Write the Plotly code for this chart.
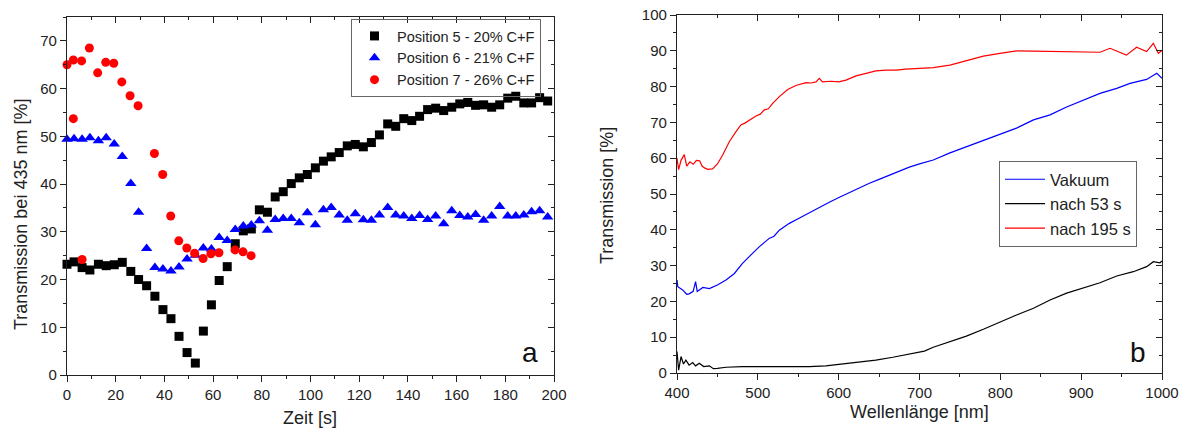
import plotly.graph_objects as go

W, H = 1181, 428

# ---------------- Panel a data ----------------
t_black = [0, 2.9, 6.2, 9.4, 12.9, 16.1, 19.4, 22.7, 26.2, 29.4, 32.7, 36.1, 39.4, 42.7, 46.0, 49.3,
           52.7, 56.0, 59.3, 62.5, 65.8, 69.1, 72.4, 75.7, 79.0, 82.3, 85.5, 88.8, 92.1, 95.4, 98.7,
           102.0, 105.3, 108.5, 111.8, 115.1, 118.4, 121.7, 125.0, 128.3, 131.7, 135.0, 138.3, 141.6,
           144.8, 148.1, 151.4, 154.7, 158.0, 161.3, 164.6, 167.8, 171.1, 174.4, 177.7, 181.0, 184.3,
           187.6, 190.8, 194.1, 197.4]
pos5 = [23.2, 23.7, 22.5, 22.0, 23.2, 22.9, 23.1, 23.6, 21.7, 20.0, 18.7, 16.5, 13.7, 11.8, 8.1, 4.7,
        2.5, 9.2, 14.7, 19.8, 22.7, 27.5, 30.2, 30.6, 34.6, 34.1, 37.3, 38.4, 40.1, 41.3, 42.0,
        43.4, 44.8, 45.7, 46.6, 48.0, 48.3, 47.8, 48.7, 50.3, 52.6, 52.1, 53.7, 53.3, 54.2, 55.6,
        55.9, 55.4, 56.1, 56.8, 57.1, 56.5, 56.6, 56.1, 56.6, 58.0, 58.4, 57.0, 57.0, 58.1, 57.4]
t_blue = t_black
pos6 = [49.4, 49.5, 49.4, 49.7, 49.1, 49.7, 48.4, 45.8, 40.1, 34.1, 26.5, 22.5, 22.2, 21.8, 22.6, 24.3,
        25.1, 26.6, 26.4, 28.8, 28.2, 30.5, 31.2, 31.4, 32.3, 30.3, 32.6, 32.8, 32.8, 31.9, 34.0,
        31.5, 34.6, 35.1, 33.5, 32.4, 33.8, 32.5, 32.4, 33.5, 35.1, 33.5, 33.3, 32.8, 33.4, 32.6,
        33.3, 31.7, 34.4, 33.4, 33.1, 33.6, 32.4, 33.3, 35.3, 33.3, 33.3, 33.5, 34.2, 34.4, 33.1]
t_red = [0, 2.6, 2.6, 6.0, 6.2, 9.2, 12.6, 15.9, 19.2, 22.5, 25.9, 29.2, 35.9, 39.3, 42.6, 45.9,
         49.2, 52.4, 55.9, 59.1, 62.4, 69.0, 72.3, 75.6]
pos7 = [65.0, 66.0, 53.7, 65.8, 24.2, 68.5, 63.3, 65.5, 65.3, 61.4, 58.5, 56.4, 46.4, 42.0, 33.3, 28.1,
        26.6, 25.5, 24.4, 25.4, 25.6, 26.2, 25.8, 25.0]

# ---------------- Panel b data ----------------
nm_vak = [400, 401, 407, 412, 415, 420, 423, 425, 432, 440, 450, 460.6, 471, 481, 491.5, 502, 514,
          520, 526.6, 539, 551, 563.7, 576, 588.4, 601, 613, 625.5, 638, 650, 662.7, 675, 687.4,
          700, 717, 737.7, 758, 779, 799.6, 820, 841, 861.5, 882, 902.7, 923.3, 944, 960.4, 981,
          993.5, 1000]
vakuum = [26.0, 24.1, 23.2, 22.0, 22.1, 22.8, 25.5, 22.8, 23.9, 23.6, 24.6, 26.0, 27.8, 30.6, 33.0,
          35.3, 37.6, 38.2, 39.9, 41.8, 43.2, 44.8, 46.3, 47.7, 49.1, 50.4, 51.6, 53.0, 54.1, 55.3,
          56.5, 57.5, 58.4, 59.5, 61.5, 63.2, 65.1, 66.8, 68.4, 70.7, 72.1, 74.3, 76.3, 78.1, 79.5,
          80.9, 82.0, 83.7, 82.3]
nm_53 = [400, 402, 405, 408, 411, 415, 419.4, 423, 427.6, 433, 440, 445, 450, 460.6, 481, 502, 522.5,
         543, 563.7, 584, 605, 625.5, 646, 667, 687.4, 706, 717, 737.7, 758, 779, 799.6, 820, 841,
         861.5, 882, 902.7, 923.3, 944, 964.5, 981, 989.3, 997.5, 1000]
nach53 = [6.0, 0.8, 4.6, 2.5, 3.6, 2.2, 2.9, 2.0, 2.7, 1.8, 2.0, 1.2, 1.3, 1.6, 1.8, 1.8, 1.6, 1.6,
          1.8, 2.0, 2.5, 3.0, 3.6, 4.4, 5.3, 6.1, 7.2, 8.8, 10.3, 12.2, 14.3, 16.2, 18.1, 20.4, 22.3,
          23.7, 25.2, 27.1, 28.3, 29.7, 31.1, 30.8, 31.3]
nm_195 = [400, 402, 405, 409, 412, 416, 420, 424, 428, 431, 434, 438, 444, 450, 456.5, 464.7, 473,
          479, 484, 489.5, 497.7, 503, 508, 513, 518.4, 526.6, 537, 547, 559.6, 566, 572, 576, 580,
          590, 600, 609, 621.5, 634, 646, 658.6, 671, 683, 695.7, 706, 717, 737.7, 758, 779, 799.6,
          820, 841, 861.5, 882, 902.7, 923.3, 935.7, 945, 956, 968.5, 981, 989.3, 995.5, 1000]
nach195 = [60.0, 56.8, 59.4, 61.0, 57.8, 59.0, 58.3, 59.4, 59.3, 57.8, 57.3, 56.9, 57.0, 58.4, 60.9,
           64.6, 67.4, 69.3, 69.8, 70.7, 71.8, 72.3, 73.5, 73.8, 75.3, 77.2, 79.2, 80.3, 81.1, 81.0,
           81.3, 82.3, 81.3, 81.5, 81.3, 81.8, 83.0, 83.7, 84.4, 84.6, 84.6, 84.9, 85.1, 85.2, 85.3,
           86.0, 87.2, 88.5, 89.3, 90.0, 89.9, 89.8, 89.6, 89.5, 89.6, 90.7, 89.8, 88.8, 91.0, 89.8,
           92.1, 89.3, 90.1]

FONT = "Liberation Sans, Arial, sans-serif"
AX = "#222222"

fig = go.Figure()

# Panel a traces
fig.add_trace(go.Scatter(x=t_black, y=pos5, mode="markers", name="Position 5 - 20% C+F",
                         marker=dict(symbol="square", size=9, color="#000000"),
                         cliponaxis=False, xaxis="x", yaxis="y", legend="legend"))
fig.add_trace(go.Scatter(x=t_blue, y=pos6, mode="markers", name="Position 6 - 21% C+F",
                         marker=dict(symbol="triangle-up", size=10, color="#0000FF"),
                         cliponaxis=False, xaxis="x", yaxis="y", legend="legend"))
fig.add_trace(go.Scatter(x=t_red, y=pos7, mode="markers", name="Position 7 - 26% C+F",
                         marker=dict(symbol="circle", size=9, color="#FF0000"),
                         cliponaxis=False, xaxis="x", yaxis="y", legend="legend"))

# Panel b traces
fig.add_trace(go.Scatter(x=nm_vak, y=vakuum, mode="lines", name="Vakuum",
                         line=dict(color="#0000FF", width=1.2), xaxis="x2", yaxis="y2", legend="legend2"))
fig.add_trace(go.Scatter(x=nm_53, y=nach53, mode="lines", name="nach 53 s",
                         line=dict(color="#000000", width=1.2), xaxis="x2", yaxis="y2", legend="legend2"))
fig.add_trace(go.Scatter(x=nm_195, y=nach195, mode="lines", name="nach 195 s",
                         line=dict(color="#FF0000", width=1.2), xaxis="x2", yaxis="y2", legend="legend2"))

# empty traces so that the mirrored frame axes (top / right, inward ticks) are drawn
fig.add_trace(go.Scatter(x=[], y=[], xaxis="x3", yaxis="y3", showlegend=False, hoverinfo="skip"))
fig.add_trace(go.Scatter(x=[], y=[], xaxis="x4", yaxis="y4", showlegend=False, hoverinfo="skip"))

xa_dom = [67 / W, 554 / W]
ya_dom = [1 - 375 / H, 1 - 17 / H]
xb_dom = [677 / W, 1162 / W]
yb_dom = [1 - 373 / H, 1 - 15 / H]


def main_axis(rng, dom, dtick, minor_dtick, anchor, side):
    return dict(range=rng, domain=dom, dtick=dtick, tick0=rng[0],
                ticks="outside", ticklen=6, tickwidth=1.2, tickcolor=AX,
                minor=dict(ticks="outside", ticklen=3, dtick=minor_dtick, tickcolor=AX, tickwidth=1.2),
                showline=True, linecolor=AX, linewidth=1.3, mirror=False, automargin=False,
                showgrid=False, zeroline=False, anchor=anchor, side=side,
                tickfont=dict(family=FONT, size=15, color="#222"))


def mirror_axis(rng, dom, dtick, minor_dtick, anchor, side, overlay):
    return dict(range=rng, domain=dom, dtick=dtick, tick0=rng[0],
                ticks="inside", ticklen=6, tickwidth=1.2, tickcolor=AX,
                minor=dict(ticks="inside", ticklen=3, dtick=minor_dtick, tickcolor=AX, tickwidth=1.2),
                showline=True, linecolor=AX, linewidth=1.3, showticklabels=False, automargin=False,
                showgrid=False, zeroline=False, anchor=anchor, side=side, overlaying=overlay)


fig.update_layout(
    width=W, height=H,
    margin=dict(l=0, r=0, t=0, b=0, autoexpand=False),
    paper_bgcolor="white", plot_bgcolor="white",
    font=dict(family=FONT, size=15, color="#222"),
    xaxis=main_axis([0, 200], xa_dom, 20, 10, "y", "bottom"),
    yaxis=main_axis([0, 75], ya_dom, 10, 5, "x", "left"),
    xaxis2=main_axis([400, 1000], xb_dom, 100, 50, "y2", "bottom"),
    yaxis2=main_axis([0, 100], yb_dom, 10, 5, "x2", "left"),
    xaxis3=mirror_axis([0, 200], xa_dom, 20, 10, "y3", "top", "x"),
    yaxis3=mirror_axis([0, 75], ya_dom, 10, 5, "x3", "right", "y"),
    xaxis4=mirror_axis([400, 1000], xb_dom, 100, 50, "y4", "top", "x2"),
    yaxis4=mirror_axis([0, 100], yb_dom, 10, 5, "x4", "right", "y2"),
    legend=dict(x=541 / W, y=1 - 19 / H, xanchor="right", yanchor="top",
                bgcolor="rgba(255,255,255,0)", bordercolor="#666", borderwidth=1,
                font=dict(family=FONT, size=14.5, color="#222"), itemwidth=35,
                tracegroupgap=0),
    legend2=dict(x=999 / W, y=1 - 161 / H, xanchor="left", yanchor="top",
                 bgcolor="white", bordercolor="#666", borderwidth=1,
                 font=dict(family=FONT, size=16.5, color="#222"), itemwidth=40,
                 tracegroupgap=0),
    showlegend=True,
    annotations=[
        dict(text="Transmission bei 435 nm [%]", x=21 / W, y=1 - 215 / H, xref="paper", yref="paper",
             textangle=-90, showarrow=False, xanchor="center", yanchor="middle",
             font=dict(family=FONT, size=18, color="#222")),
        dict(text="Zeit [s]", x=310.5 / W, y=1 - 418 / H, xref="paper", yref="paper",
             showarrow=False, xanchor="center", yanchor="middle",
             font=dict(family=FONT, size=18, color="#222")),
        dict(text="Transmission [%]", x=607 / W, y=1 - 196 / H, xref="paper", yref="paper",
             textangle=-90, showarrow=False, xanchor="center", yanchor="middle",
             font=dict(family=FONT, size=18, color="#222")),
        dict(text="Wellenlänge [nm]", x=919 / W, y=1 - 412 / H, xref="paper", yref="paper",
             showarrow=False, xanchor="center", yanchor="middle",
             font=dict(family=FONT, size=18, color="#222")),
        dict(text="a", x=530 / W, y=1 - 352 / H, xref="paper", yref="paper",
             showarrow=False, xanchor="center", yanchor="middle",
             font=dict(family=FONT, size=28, color="#111")),
        dict(text="b", x=1138 / W, y=1 - 352 / H, xref="paper", yref="paper",
             showarrow=False, xanchor="center", yanchor="middle",
             font=dict(family=FONT, size=28, color="#111")),
    ],
)

fig.write_html("out.html")
